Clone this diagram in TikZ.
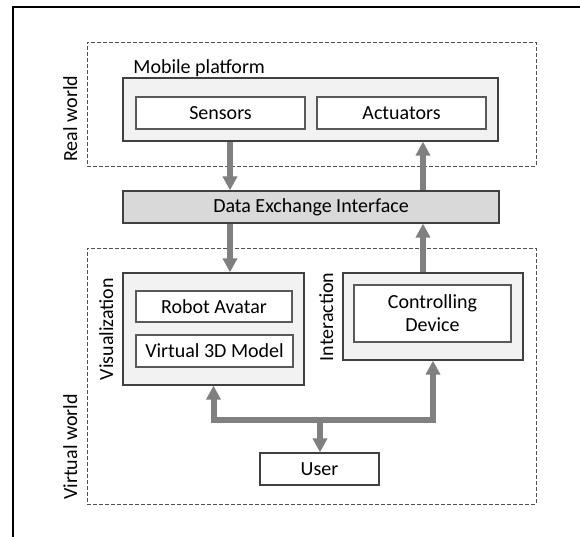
\documentclass[tikz,border=0pt]{standalone}
\usepackage{fontspec}
\setmainfont{Carlito}
\usetikzlibrary{arrows.meta}

\definecolor{boxline}{HTML}{404040}
\definecolor{itemline}{HTML}{595959}
\definecolor{worldline}{HTML}{505050}
\definecolor{groupfill}{HTML}{F2F2F2}
\definecolor{deifill}{HTML}{D9D9D9}
\definecolor{arrowgray}{HTML}{808080}

\tikzset{
  >={Triangle[width=7pt,length=7pt]},
  worldbox/.style={draw=worldline,dash pattern=on 2pt off 1pt,line width=0.5pt,inner sep=0pt},
  groupbox/.style={draw=boxline,fill=groupfill,line width=0.6pt,inner sep=0pt},
  itembox/.style={draw=itemline,fill=white,line width=0.6pt,inner sep=0pt,align=center},
  sidelabel/.style={rotate=90,inner sep=0pt},
  flowarrow/.style={draw=arrowgray,line width=3pt},
}

\begin{document}
\begin{tikzpicture}[x=0.5pt,y=-0.5pt,font=\fontsize{10}{11.5}\selectfont]
    \useasboundingbox (0,0) rectangle (580,537);
    \draw[line width=1pt] (13,537) -- (13,7) -- (580,7);

    %%%%%%%%%% real world %%%%%%%%%%
    \node[worldbox,minimum width=224.5pt,minimum height=62pt] (real) at (311.5,104) {};
    \node[sidelabel,anchor=base west] (reallbl) at (77,162) {Real world};

    \node[groupbox,minimum width=187.5pt,minimum height=31.5pt] (mobile) at (310.5,109.5) {};
    \node[anchor=base west,inner sep=0pt] (mobilelbl) at (133,73) {Mobile platform};
      \node[itembox,minimum width=84.5pt,minimum height=16pt] (sensors) at (220.5,113) {Sensors};
      \node[itembox,minimum width=84.5pt,minimum height=16pt] (actuators) at (401.5,113) {Actuators};

    \node[groupbox,fill=deifill,minimum width=188pt,minimum height=16pt] (dei) at (311,207) {Data Exchange Interface};

    %%%%%%%%%% virtual world %%%%%%%%%%
    \node[worldbox,minimum width=224.5pt,minimum height=128pt] (virtual) at (311.5,376) {};
    \node[sidelabel,anchor=base west] (virtuallbl) at (77,500) {Virtual world};

    \node[groupbox,minimum width=90.5pt,minimum height=56pt] (vis) at (213.5,329) {};
    \node[sidelabel,anchor=base] (vislbl) at (113,329) {Visualization};
      \node[itembox,minimum width=78pt,minimum height=15.5pt] (avatar) at (214,306.5) {Robot Avatar};
      \node[itembox,minimum width=78.5pt,minimum height=16pt] (model) at (214.5,351) {Virtual 3D Model};

    \node[groupbox,minimum width=90pt,minimum height=43.5pt] (inter) at (433,316.5) {};
    \node[sidelabel,anchor=base] (interlbl) at (333,317) {Interaction};
      \node[itembox,minimum width=78.5pt,minimum height=28.5pt] (ctrl) at (432.5,313.5) {Controlling\\Device};

    \node[itembox,draw=boxline,minimum width=59.5pt,minimum height=16pt] (user) at (319.5,469) {User};

    % columns of the arrows
    \coordinate (lcol) at (230,0);
    \coordinate (rcol) at (423,0);
    \coordinate (bus) at (320,420);

    \draw[flowarrow,->] (mobile.south -| lcol) to (dei.north -| lcol);
    \draw[flowarrow,->] (dei.north -| rcol) to (mobile.south -| rcol);
    \draw[flowarrow,->] (dei.south -| lcol) to (vis.north -| lcol);
    \draw[flowarrow,->] (inter.north -| rcol) to (dei.south -| rcol);

    \draw[flowarrow,<->] (vis.south) |- (bus) -| (inter.south);
    \draw[flowarrow,->] (bus) to (user.north -| bus);
\end{tikzpicture}
\end{document}
